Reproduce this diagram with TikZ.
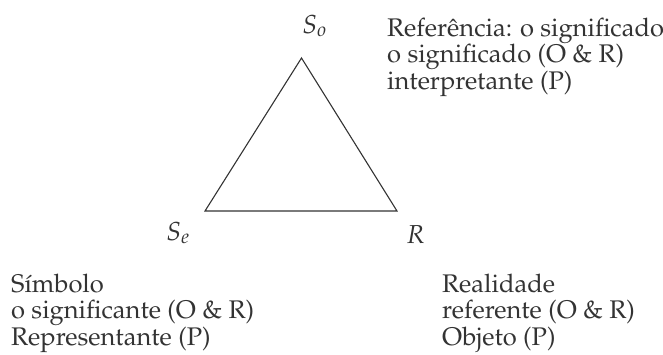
\documentclass[tikz,border=0pt]{standalone}
\usepackage[T1]{fontenc}
\usepackage{mathpazo}
\begin{document}
\begin{tikzpicture}[x=1pt,y=-1pt,
  lbl/.style={inner sep=0pt,align=left,anchor=base west,text=black!80,font=\fontsize{25.5}{26.5}\selectfont},
  vtx/.style={inner sep=0pt,anchor=base west,text=black!80,font=\fontsize{26}{26}\selectfont},
  edge/.style={draw=black!80,line width=1.1pt,line join=miter}]
\useasboundingbox (0,0) rectangle (663,354);
\coordinate (top) at (301.5,58);
\coordinate (bl) at (205,211);
\coordinate (br) at (397,211);
\draw[edge] (top) -- (bl) -- (br) -- cycle;
\node[vtx] (so) at (302,33) {$S_o$};
\node[vtx] (se) at (166,240) {$S_e$};
\node[vtx] (r) at (406,243) {$R$};
\node[lbl] (ref) at (387,89) {Refer\^encia: o significado\\o significado (O \& R)\\interpretante (P)};
\node[lbl] (sim) at (11,345) {S\'{\i}mbolo\\o significante (O \& R)\\Representante (P)};
\node[lbl] (real) at (442,345) {Realidade\\referente (O \& R)\\Objeto (P)};
\end{tikzpicture}
\end{document}
